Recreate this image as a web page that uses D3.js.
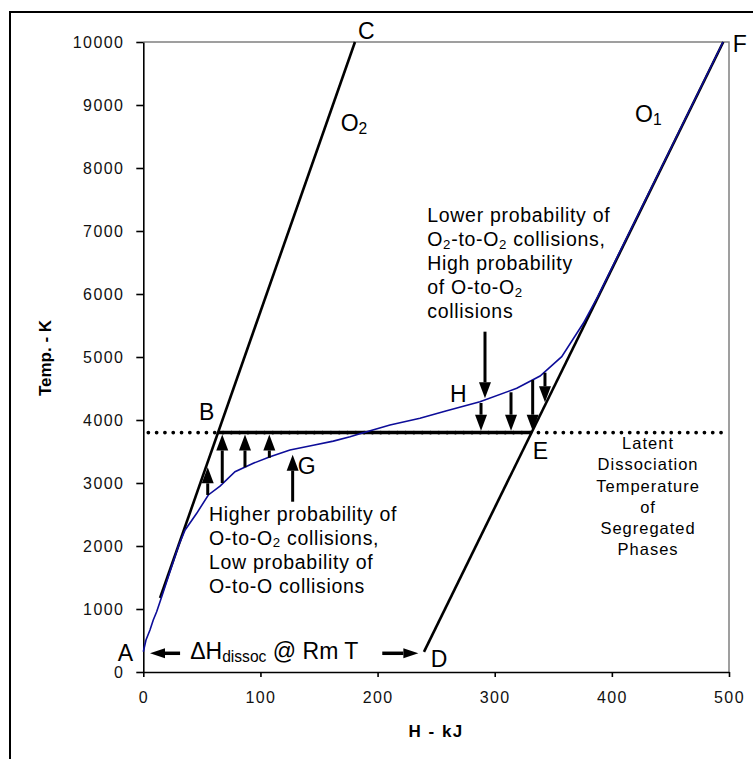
<!DOCTYPE html>
<html>
<head>
<meta charset="utf-8">
<script src="https://cdn.jsdelivr.net/npm/d3@7/dist/d3.min.js"></script>
<style>
  body { margin: 0; background: #fff; }
  svg { display: block; font-family: Arial, "Liberation Sans", sans-serif; }
</style>
</head>
<body>
<svg id="chart" width="753" height="759"></svg>
<script>
// ticks
const hTicks = [0, 100, 200, 300, 400, 500];
const tTicks = [0, 1000, 2000, 3000, 4000, 5000, 6000, 7000, 8000, 9000, 10000];

// pure phase lines, [H kJ, T K]
const o2Line = [[14.3, 1175], [180.7, 10000]];
const o1Line = [[239.6, 320], [495.1, 10000]];

// mixture curve
const mixH = [0, 2.3, 5.7, 8.5, 11.4, 15.7, 30, 35.7, 45.6, 55.5, 65.5, 78.3, 93.9, 108.2, 125.2, 145.1, 162.2,
  176.5, 187.8, 210.6, 236.2, 259.0, 287.4, 318.8, 338.7, 357.2, 375.6, 388.2, 449.6, 494.9];
const mixT = [322, 508, 667, 825, 957, 1195, 2000, 2254, 2519, 2810, 2952, 3179, 3313, 3417, 3524, 3600, 3665,
  3735, 3798, 3921, 4027, 4148, 4290, 4503, 4698, 5005, 5535, 5968, 8286, 10000];

// latent dissociation temperature
const latentT = 3800;
const dottedSpan = [4.3, 496.6];
const plateauSpan = [63.8, 331.5];

// vertical arrows: H, from T, to T
const upArrowH = [55.0, 67.4, 86.8, 107.6, 127.5];
const upArrowFrom = [2810, 3000, 3250, 3400, 2703];
const upArrowTo = [3249, 3770, 3770, 3770, 3450];
const downArrowH = [291.7, 288.3, 313.9, 332.4, 342.9];
const downArrowFrom = [5402, 4270, 4440, 4635, 4751];
const downArrowTo = [4344, 3830, 3830, 3830, 4280];

// dissociation enthalpy arrows: from H, to H, at T
const dHArrows = [[31.4, 5.7, 297], [204, 234.8, 297]];

// point letters
const pointNames = ['A', 'B', 'C', 'D', 'E', 'F', 'G', 'H'];
const pointH = [-21.9, 47.5, 183.3, 245.3, 332.4, 503.2, 131.8, 261.8];
const pointT = [175, 4000, 10048, 84, 3376, 9836, 3138, 4290];

// phase labels
const phaseNames = ['O_2', 'O_1'];
const phaseH = [168.5, 419.8];
const phaseT = [8592, 8730];

const lowNote = ['Higher probability of', 'O-to-O_2 collisions,', 'Low probability of', 'O-to-O collisions'];
const highNote = ['Lower probability of', 'O_2-to-O_2 collisions,', 'High probability', 'of O-to-O_2', 'collisions'];
const latentNote = ['Latent', 'Dissociation', 'Temperature', 'of', 'Segregated', 'Phases'];

const width = 753;
const height = 759;
const margin = { top: 42, left: 143.3, right: 24, bottom: 87 };
const innerWidth = width - margin.left - margin.right;
const innerHeight = height - margin.top - margin.bottom;

const svg = d3.select('#chart');

svg.append('rect')
  .attr('width', width).attr('height', height).attr('fill', '#fff');

// outer frame, runs off the bottom and right
svg.append('rect')
  .attr('x', 10).attr('y', 12)
  .attr('width', 800).attr('height', 800)
  .attr('fill', 'none').attr('stroke', '#000').attr('stroke-width', 2);

const chart = svg.append('g')
  .attr('transform', `translate(${margin.left},${margin.top})`);

const x = d3.scaleLinear().domain([0, 500]).range([0, innerWidth]);
const y = d3.scaleLinear().domain([0, 10000]).range([innerHeight, 0]);

// gray plot border top / right
chart.append('path')
  .attr('d', `M0,0H${x(500)}V${y(0)}`)
  .attr('fill', 'none').attr('stroke', '#808080').attr('stroke-width', 1.5);

const xAxis = d3.axisBottom(x).tickValues(hTicks).tickFormat(d3.format('d'))
  .tickSize(5).tickSizeOuter(0).tickPadding(8);
const yAxis = d3.axisLeft(y).tickValues(tTicks).tickFormat(d3.format('d'))
  .tickSize(7).tickSizeOuter(0).tickPadding(12);

chart.append('g')
  .attr('class', 'x axis')
  .attr('transform', `translate(0,${innerHeight})`)
  .call(xAxis);

chart.append('g')
  .attr('class', 'y axis')
  .call(yAxis);

chart.selectAll('.axis path, .axis line')
  .attr('stroke', '#000').attr('stroke-width', 1.6);
chart.selectAll('.axis text')
  .attr('fill', '#111')
  .style('font-size', '16px')
  .style('letter-spacing', '1.4px')
  .style('font-family', 'Arial, "Liberation Sans", sans-serif');
chart.selectAll('.x.axis text').attr('dy', '1.1em');

// axis titles
svg.append('text')
  .attr('x', margin.left + innerWidth / 2)
  .attr('y', 736.5)
  .attr('text-anchor', 'middle')
  .style('font-size', '17px')
  .style('font-weight', 'bold')
  .style('letter-spacing', '1.5px')
  .text('H - kJ');

svg.append('text')
  .attr('transform', 'translate(50.5,358) rotate(-90)')
  .attr('text-anchor', 'middle')
  .style('font-size', '17px')
  .style('font-weight', 'bold')
  .text('Temp. - K');

const lineGen = d3.line().x(d => x(d[0])).y(d => y(d[1]));

// dotted latent line
chart.append('path')
  .attr('d', lineGen(dottedSpan.map(h => [h, latentT])))
  .attr('stroke', '#000').attr('stroke-width', 3.8)
  .attr('stroke-linecap', 'round')
  .attr('stroke-dasharray', '0,8.3');

// solid plateau B-E
chart.append('path')
  .attr('d', lineGen(plateauSpan.map(h => [h, latentT])))
  .attr('stroke', '#000').attr('stroke-width', 3.5);

// phase lines
[o2Line, o1Line].forEach(seg => {
  chart.append('path')
    .attr('d', lineGen(seg))
    .attr('fill', 'none')
    .attr('stroke', '#000').attr('stroke-width', 2.6);
});

// mixture curve
chart.append('path')
  .datum(mixH.map((h, i) => [h, mixT[i]]))
  .attr('d', lineGen)
  .attr('fill', 'none')
  .attr('stroke', '#0d0d99').attr('stroke-width', 1.6);

function drawArrow(g, x1, y1, x2, y2, headLen, headW, shaftW) {
  const dx = x2 - x1, dy = y2 - y1;
  const len = Math.sqrt(dx * dx + dy * dy);
  const ux = dx / len, uy = dy / len;
  const bx = x2 - ux * headLen, by = y2 - uy * headLen;
  g.append('line')
    .attr('x1', x1).attr('y1', y1).attr('x2', bx).attr('y2', by)
    .attr('stroke', '#000').attr('stroke-width', shaftW);
  const px = -uy * headW / 2, py = ux * headW / 2;
  g.append('path')
    .attr('d', `M${x2},${y2}L${bx + px},${by + py}L${bx - px},${by - py}Z`)
    .attr('fill', '#000');
}

upArrowH.forEach((h, i) => {
  drawArrow(chart, x(h), y(upArrowFrom[i]), x(h), y(upArrowTo[i]), 16, 12, 3);
});
downArrowH.forEach((h, i) => {
  drawArrow(chart, x(h), y(downArrowFrom[i]), x(h), y(downArrowTo[i]), 16, 12, 3);
});
dHArrows.forEach(a => {
  drawArrow(chart, x(a[0]), y(a[2]), x(a[1]), y(a[2]), 15, 10, 3.5);
});

// text with _sub parts
function richText(sel, str, fs) {
  const parts = str.split(/(_\w+)/).filter(s => s.length);
  let shift = 0;
  parts.forEach(p => {
    const isSub = p[0] === '_';
    const t = sel.append('tspan').text(isSub ? p.slice(1) : p);
    if (isSub) {
      t.style('font-size', (fs * 0.68) + 'px').attr('dy', fs * 0.13);
      shift = fs * 0.13;
    } else if (shift) {
      t.attr('dy', -shift);
      shift = 0;
    }
  });
}

pointNames.forEach((n, i) => {
  chart.append('text')
    .attr('x', x(pointH[i])).attr('y', y(pointT[i]))
    .style('font-size', '23px')
    .text(n);
});

phaseNames.forEach((n, i) => {
  const t = chart.append('text')
    .attr('x', x(phaseH[i])).attr('y', y(phaseT[i]))
    .style('font-size', '23px');
  richText(t, n, 23);
});

function noteBlock(lines, h, t, fs, lead, spacing, anchor) {
  lines.forEach((line, i) => {
    const txt = chart.append('text')
      .attr('x', x(h)).attr('y', y(t) + i * lead)
      .attr('text-anchor', anchor)
      .style('font-size', fs + 'px')
      .style('letter-spacing', spacing + 'px');
    richText(txt, line, fs);
  });
}

noteBlock(lowNote, 56.1, 2402, 19.5, 24, 0.7, 'start');
noteBlock(highNote, 242.4, 7143, 19.5, 24, 0.7, 'start');
noteBlock(latentNote, 430.9, 3535, 16.5, 21.2, 1, 'middle');

// delta H label
const dH = chart.append('text')
  .attr('x', x(40)).attr('y', y(202))
  .style('font-size', '23px');
richText(dH, 'ΔH_dissoc @ Rm T', 23);
</script>
</body>
</html>
